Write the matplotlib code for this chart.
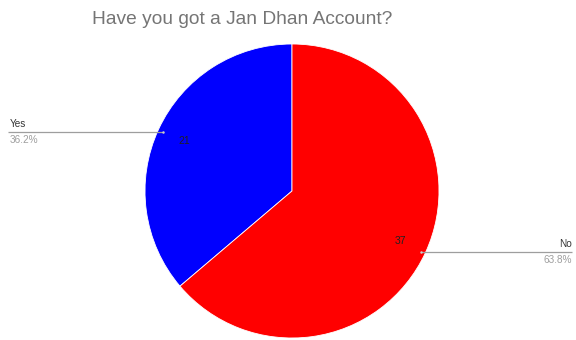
import numpy as np
import matplotlib
matplotlib.use("Agg")
import matplotlib.pyplot as plt

plt.rcParams['font.family'] = ['Liberation Sans', 'DejaVu Sans']

title = "Have you got a Jan Dhan Account?"
categories = ["Yes", "No"]
values = [21, 37]
colors = ["#0000ff", "#ff0000"]

W, H = 576, 340
fig = plt.figure(figsize=(W / 100, H / 100), dpi=100)
ax = fig.add_axes([0, 0, 1, 1])

cx, cy, r = 292, H - 191, 147
wedges, _ = ax.pie(values, colors=colors, startangle=90, counterclock=True,
                   center=(cx, cy), radius=r, frame=True,
                   wedgeprops=dict(edgecolor='white', linewidth=0.6))
ax.set_xlim(0, W)
ax.set_ylim(0, H)
ax.set_aspect('equal')
ax.axis('off')

total = sum(values)
for w, cat, v in zip(wedges, categories, values):
    mid = np.deg2rad((w.theta1 + w.theta2) / 2)
    # value inside the slice
    ax.text(cx + 0.81 * r * np.cos(mid), cy + 0.81 * r * np.sin(mid), str(v),
            ha='center', va='center', fontsize=7.5, color='#222222')
    # leader line out to the side label
    ax_x = cx + 0.97 * r * np.cos(mid)
    ax_y = cy + 0.97 * r * np.sin(mid) - 1
    pct = f"{100 * v / total:.1f}%"
    if np.cos(mid) < 0:
        end_x, ha, tx = 8, 'left', 10
    else:
        end_x, ha, tx = 572, 'right', 572
    ax.plot([ax_x, end_x], [ax_y, ax_y], color='#9e9e9e', lw=0.9,
            solid_capstyle='butt')
    ax.plot([ax_x], [ax_y], marker='o', ms=1.8, color='#cccccc', mec='none')
    ax.text(tx, ax_y + 3, cat, ha=ha, va='bottom', fontsize=7.2, color='#333333')
    ax.text(tx, ax_y - 3, pct, ha=ha, va='top', fontsize=7.2, color='#9e9e9e')

ax.text(92, H - 20, title, ha='left', va='center', fontsize=13.8,
        color='#757575')

fig.savefig("out.png", dpi=100, facecolor='white')
